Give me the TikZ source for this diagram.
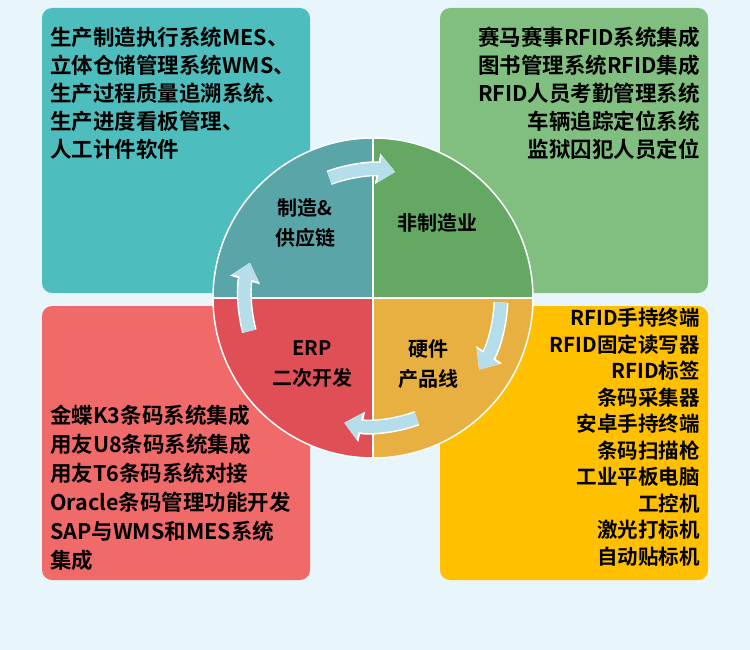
\documentclass[tikz,border=0pt]{standalone}
\usepackage{fontspec}
\newfontfamily\cjk{Noto Sans CJK SC Bold}
\usetikzlibrary{arrows.meta}
\definecolor{bg}{HTML}{E8F5FB}
\definecolor{cteal}{HTML}{4DBDBD}
\definecolor{cgreen}{HTML}{80BF80}
\definecolor{cred}{HTML}{F06A6A}
\definecolor{cgold}{HTML}{FFC000}
\definecolor{qteal}{HTML}{5AA5A8}
\definecolor{qgreen}{HTML}{64A864}
\definecolor{qred}{HTML}{E04F55}
\definecolor{qgold}{HTML}{E8B040}
\definecolor{arr}{HTML}{B5DDEA}
\tikzset{box/.style={rounded corners=10pt},
 txt/.style={font=\cjk\fontsize{21.5}{28}\selectfont,text=black,inner sep=0pt},
 ql/.style={font=\cjk\fontsize{20}{30}\selectfont,align=center,inner sep=0pt},
 carrw/.style={line width=15pt,white,-{Triangle[length=18pt,width=30pt]}},
 carr/.style={line width=12pt,arr,-{Triangle[length=16pt,width=26pt]}}}
\newcommand\cycarrow[2]{%
 \draw[carrw] (c) ++(#1:128) arc[start angle=#1,end angle=#2,radius=128];
 \draw[carr] (c) ++(#1:128) arc[start angle=#1,end angle=#2,radius=128];}
\begin{document}
\begin{tikzpicture}[x=1pt,y=-1pt]
\fill[bg] (0,0) rectangle (750,650);
\useasboundingbox (0,0) rectangle (750,650);
\fill[box,cteal] (42,8) rectangle (310,293);
\fill[box,cgreen] (440,8) rectangle (708,293);
\fill[box,cred] (42,306) rectangle (310,580);
\fill[box,cgold] (440,306) rectangle (708,580);
\coordinate (c) at (373,298);
\fill[qteal] (c) -- (213,298) arc[start angle=180,end angle=270,radius=160] -- cycle;
\fill[qgreen] (c) -- (373,138) arc[start angle=270,end angle=360,radius=160] -- cycle;
\fill[qgold] (c) -- (533,298) arc[start angle=0,end angle=90,radius=160] -- cycle;
\fill[qred] (c) -- (373,458) arc[start angle=90,end angle=180,radius=160] -- cycle;
\draw[white,line width=1.5pt] (213,298) -- (533,298) (373,138) -- (373,458);
\draw[white,line width=1.5pt] (c) circle[radius=160];
\node[txt,anchor=north west,align=left] (tl) at (50,27) {生产制造执行系统MES、\\立体仓储管理系统WMS、\\生产过程质量追溯系统、\\生产进度看板管理、\\人工计件软件};
\node[txt,anchor=north east,align=right] (tr) at (700,27) {赛马赛事RFID系统集成\\图书管理系统RFID集成\\RFID人员考勤管理系统\\车辆追踪定位系统\\监狱囚犯人员定位};
\node[txt,anchor=north east,align=right,font=\cjk\fontsize{20.5}{26.5}\selectfont] (br) at (700,308) {RFID手持终端\\RFID固定读写器\\RFID标签\\条码采集器\\安卓手持终端\\条码扫描枪\\工业平板电脑\\工控机\\激光打标机\\自动贴标机};
\node[txt,anchor=north west,align=left,font=\cjk\fontsize{21.5}{29}\selectfont] (bl) at (50,405) {金蝶K3条码系统集成\\用友U8条码系统集成\\用友T6条码系统对接\\Oracle条码管理功能开发\\SAP与WMS和MES系统\\集成};
\node[ql] (q1) at (305,223) {制造\&\\供应链};
\node[ql] (q2) at (437,223) {非制造业};
\node[ql] (q3) at (312,364) {ERP\\二次开发};
\node[ql] (q4) at (428,364) {硬件\\产品线};
\cycarrow{-110}{-80}
\cycarrow{2}{34}
\cycarrow{70}{103}
\cycarrow{-195}{-164}
\end{tikzpicture}
\end{document}
